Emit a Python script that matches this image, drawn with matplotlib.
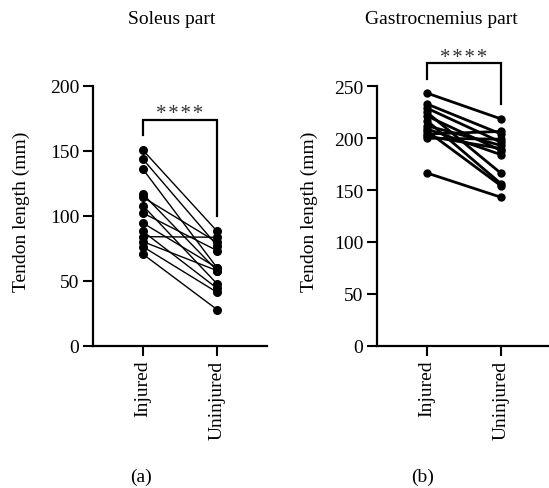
import matplotlib
matplotlib.use("Agg")
import matplotlib.pyplot as plt

plt.rcParams['font.family'] = ['Liberation Serif', 'DejaVu Serif']

groups = ["Injured", "Uninjured"]

# Soleus part (mm)
soleus_injured = [150.5, 143.6, 135.9, 116.7, 114.2, 107.8, 102.1, 94.4, 88.0, 83.9, 80.1, 76.2, 70.5]
soleus_uninjured = [88.0, 76.9, 59.8, 57.7, 79.5, 47.5, 73.1, 59.8, 44.1, 83.4, 57.7, 41.0, 27.7]

# Gastrocnemius part (mm)
gastro_injured = [243.5, 233.0, 229.0, 225.0, 221.5, 217.0, 212.0, 209.0, 207.0, 204.0, 202.0, 200.0, 166.5]
gastro_uninjured = [218.5, 204.0, 196.0, 166.0, 188.0, 156.0, 193.0, 184.0, 154.0, 206.5, 190.0, 199.0, 143.0]

titles = ["Soleus part", "Gastrocnemius part"]
panel_labels = ["(a)", "(b)"]
ylabel = "Tendon length (mm)"
sig_text = "*\u200a*\u200a*\u200a*"

fig = plt.figure(figsize=(5.49, 4.89), dpi=100)
W, H = 549, 489

def axes_px(x0, x1, ytop, ybot):
    return fig.add_axes([x0 / W, 1 - ybot / H, (x1 - x0) / W, (ybot - ytop) / H])

axA = axes_px(93, 267, 86.7, 346.7)
axB = axes_px(377, 551, 87.3, 346.7)

def style(ax, ylim, yticks):
    ax.set_xlim(-0.67, 1.67)
    ax.set_ylim(*ylim)
    ax.set_yticks(yticks)
    ax.set_xticks([0, 1])
    ax.set_xticklabels(groups, rotation=90, fontsize=14)
    ax.tick_params(axis='y', labelsize=14, length=7, width=1.5, direction='out', pad=3)
    ax.tick_params(axis='x', length=7, width=1.5, direction='out', pad=3)
    for s in ['top', 'right']:
        ax.spines[s].set_visible(False)
    for s in ['left', 'bottom']:
        ax.spines[s].set_linewidth(1.6)
    ax.patch.set_alpha(0)

style(axA, (0, 200), [0, 50, 100, 150, 200])
style(axB, (0, 250), [0, 50, 100, 150, 200, 250])

for a, b in zip(soleus_injured, soleus_uninjured):
    axA.plot([0, 1], [a, b], color='black', lw=1.0, marker='o', ms=5.5, clip_on=False)
for a, b in zip(gastro_injured, gastro_uninjured):
    axB.plot([0, 1], [a, b], color='black', lw=2.0, marker='o', ms=5.0, clip_on=False)

def bracket(ax, y_top, y_left, y_right, y_text):
    ax.plot([0, 0, 1, 1], [y_left, y_top, y_top, y_right], color='black', lw=1.6,
            clip_on=False, solid_joinstyle='miter')
    ax.text(0.5, y_text, sig_text, ha='center', va='baseline', fontsize=15,
            color='#333333', clip_on=False)

bracket(axA, 174, 162, 100, 175.0)
bracket(axB, 272, 257, 233, 273.0)

fig.text(172 / W, 1 - 20 / H, titles[0], ha='center', va='center', fontsize=14)
fig.text(441 / W, 1 - 20 / H, titles[1], ha='center', va='center', fontsize=14)
fig.text(21 / W, 1 - 212 / H, ylabel, ha='center', va='center', rotation=90, fontsize=14)
fig.text(309 / W, 1 - 212 / H, ylabel, ha='center', va='center', rotation=90, fontsize=14)
fig.text(141 / W, 1 - 477 / H, panel_labels[0], ha='center', va='center', fontsize=14)
fig.text(423 / W, 1 - 477 / H, panel_labels[1], ha='center', va='center', fontsize=14)

fig.savefig("out.png", dpi=100)
